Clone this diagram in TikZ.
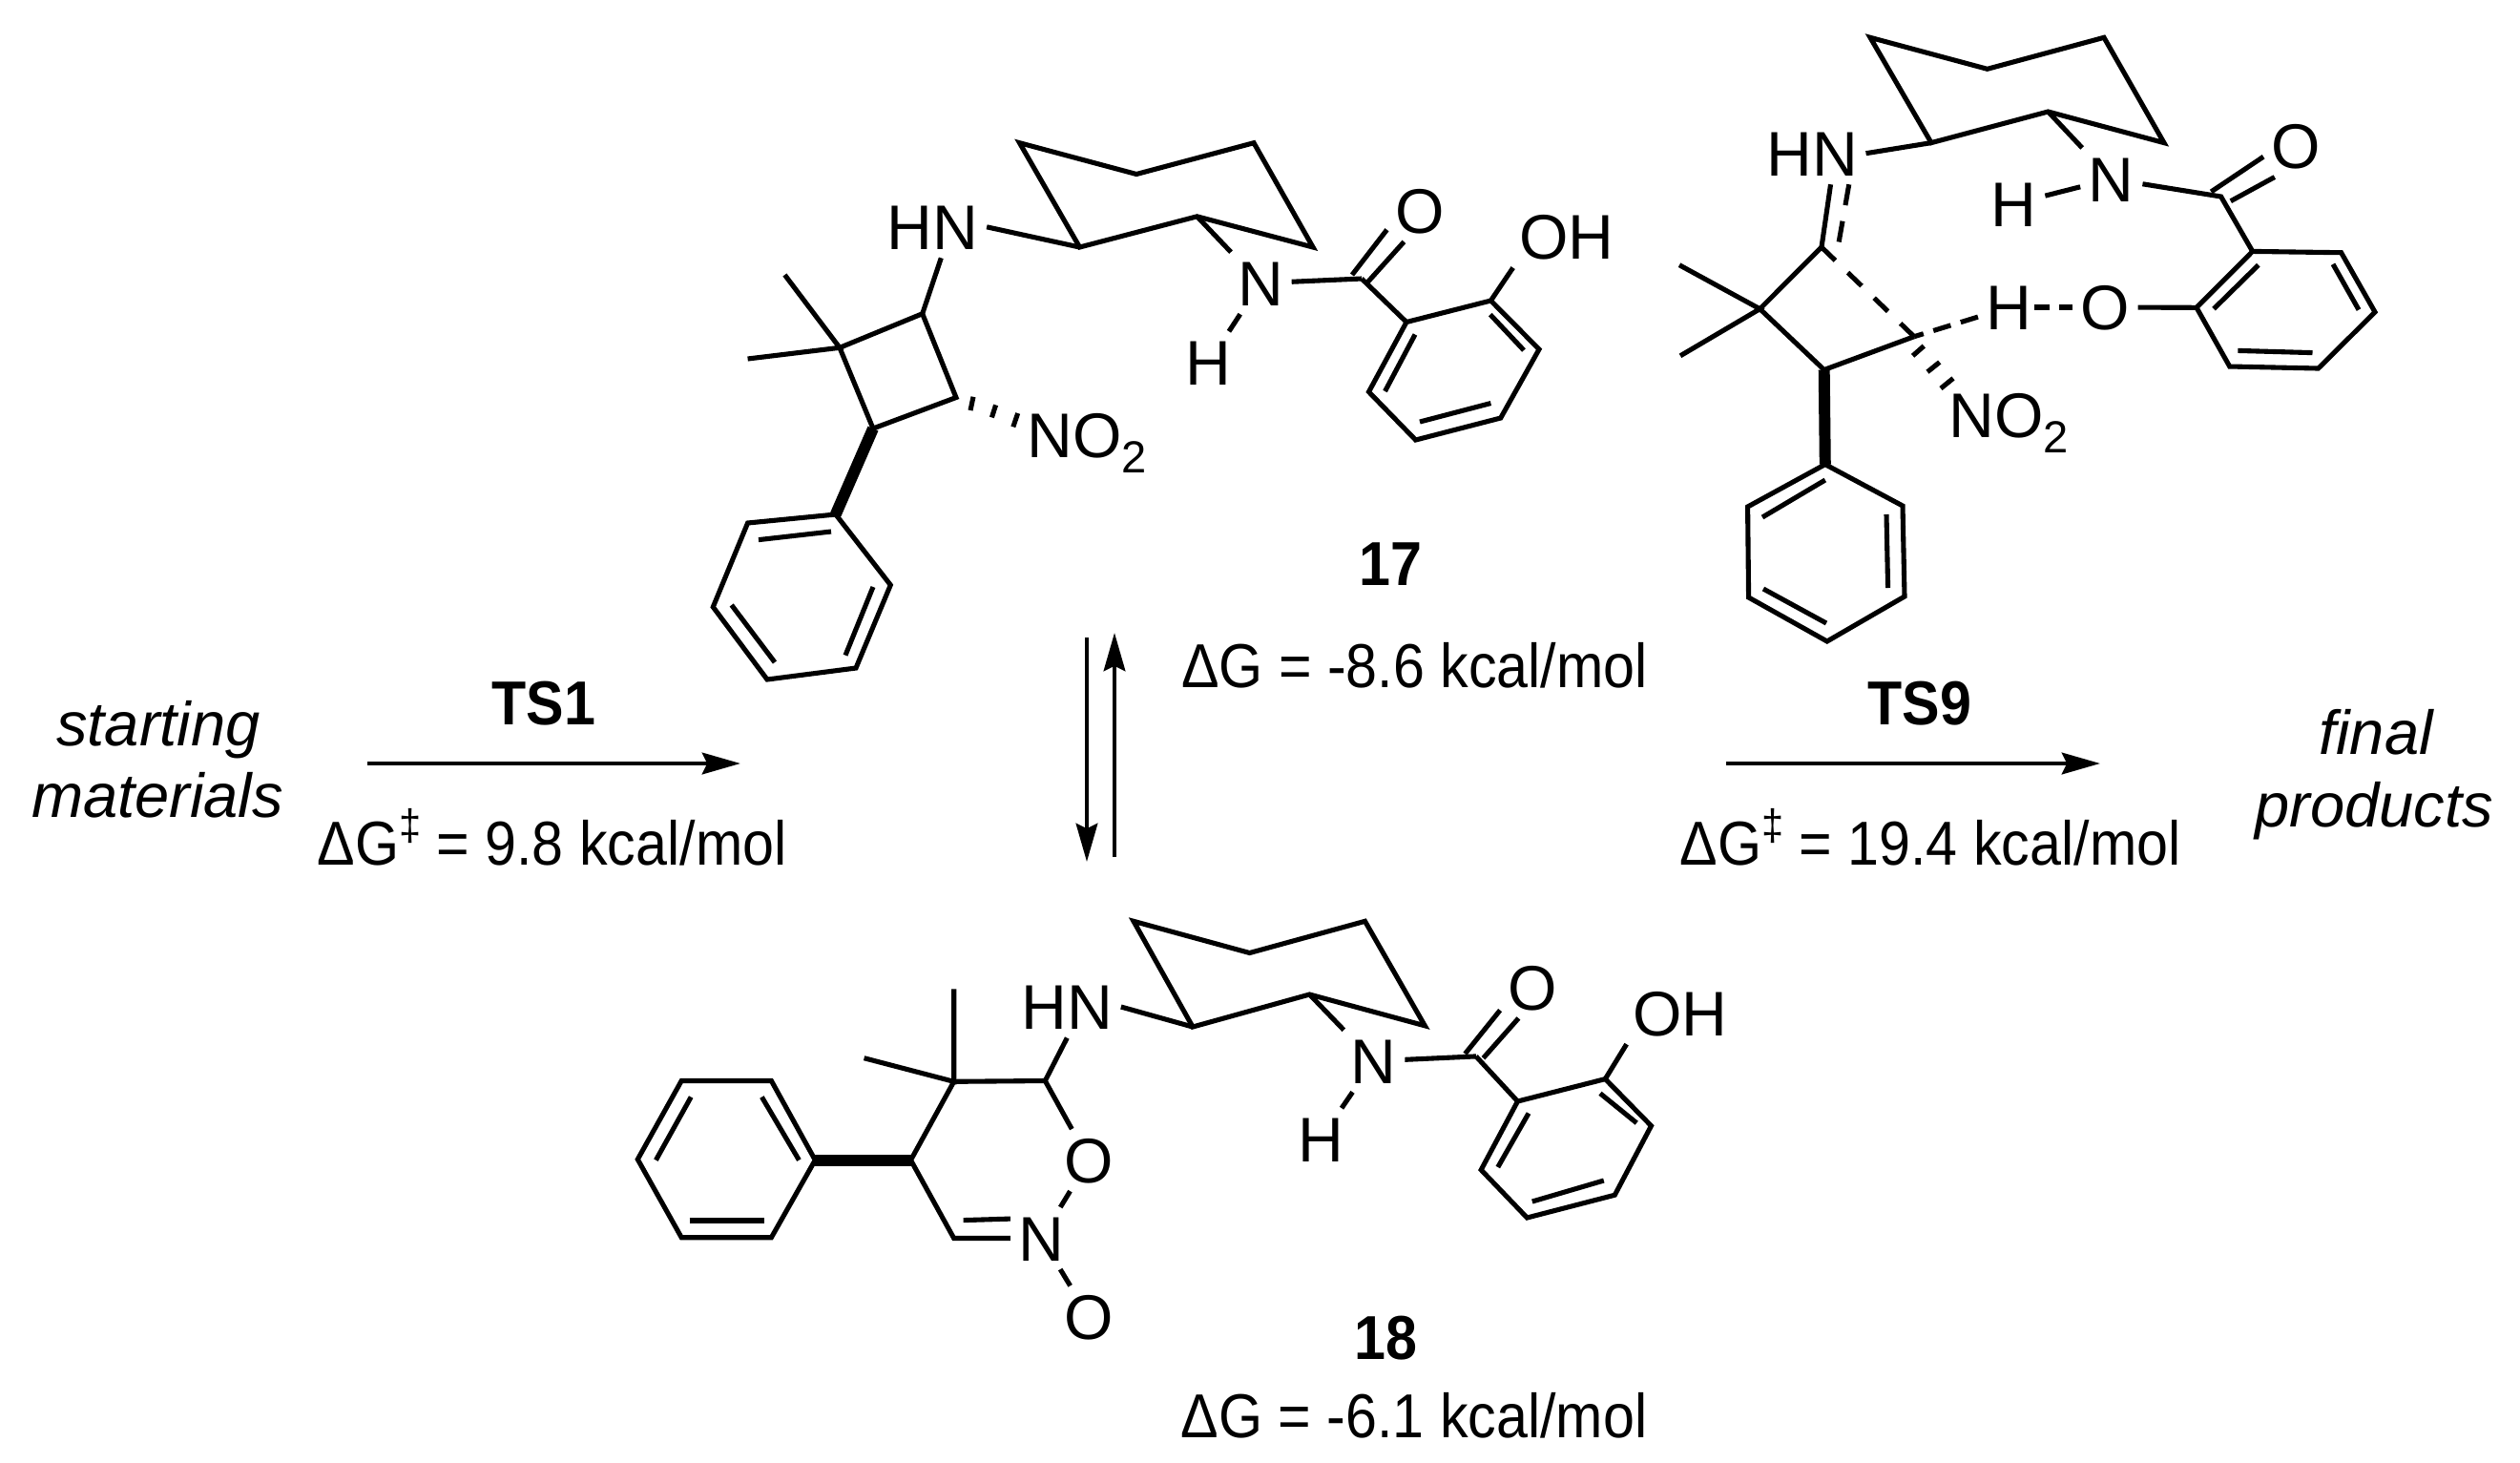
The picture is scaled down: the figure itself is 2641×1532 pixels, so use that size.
\documentclass[tikz,border=0pt]{standalone}
\usepackage{fontspec}
\setmainfont{Liberation Sans}
\newfontfamily\narrowfont[FakeStretch=0.91]{Liberation Sans}
\usetikzlibrary{arrows.meta}

\newcommand{\subtwo}{\raisebox{-4.5pt}{\fontsize{13.4}{14}\selectfont 2}}
\newcommand{\ddg}{\raisebox{7.5pt}{\fontsize{13}{14}\selectfont ‡}}

\tikzset{
  bond/.style={line width=1.45pt},
  inbond/.style={line width=1.45pt},
  boldbond/.style={line width=3.4pt},
  dashbond/.style={line width=1.45pt, dash pattern=on 5.7pt off 5.2pt},
  atom/.style={font=\fontsize{18.8}{22}\selectfont, inner sep=2.3pt, text height=13.5pt, text depth=0pt},
  energy/.style={font=\narrowfont\fontsize{18.5}{22}\selectfont, anchor=base, inner sep=0pt},
  tslabel/.style={font=\narrowfont\fontsize{18.5}{22}\selectfont\bfseries, anchor=base, inner sep=0pt},
  endlabel/.style={font=\fontsize{18.5}{22}\selectfont\itshape, anchor=base, inner sep=0pt},
  rxn/.style={line width=1.33pt, -{Stealth[length=11.4pt,width=6.4pt,inset=1.5pt]}}
}

\begin{document}
\begin{tikzpicture}[x=0.01cm, y=-0.01cm]
  \useasboundingbox (0,0) rectangle (2641,1532);

  % labels at the ends
  \node[endlabel] (sm1) at (166,781.7) {starting};
  \node[endlabel] (sm2) at (165,856.7) {materials};
  \node[endlabel] (fp1) at (2490,790.7) {final};
  \node[endlabel] (fp2) at (2488,866.7) {products};

  % arrows
  \coordinate (ts1a) at (385,800);
  \coordinate (ts1b) at (776,800);
  \coordinate (ts9a) at (1809,800);
  \coordinate (ts9b) at (2201,800);
  \coordinate (eqa) at (1139,668);
  \coordinate (eqb) at (1139,903);
  \coordinate (eqc) at (1168,898);
  \coordinate (eqd) at (1168,663);
  \draw[rxn] (ts1a) -- (ts1b);
  \draw[rxn] (ts9a) -- (ts9b);
  \draw[rxn] (eqa) -- (eqb);
  \draw[rxn] (eqc) -- (eqd);

  % energies
  \node[tslabel] (ts1) at (570,759) {TS1};
  \node[tslabel] (ts9) at (2012,759) {TS9};
  \node[energy] (dg1) at (578.5,906.7) {ΔG\ddg{} = 9.8 kcal/mol};
  \node[energy] (dg9) at (2023,906.7) {ΔG\ddg{} = 19.4 kcal/mol};
  \node[tslabel] (num17) at (1457.6,613) {17};
  \node[energy] (dg17) at (1482.5,720) {ΔG = -8.6 kcal/mol};
  \node[tslabel] (num18) at (1452.7,1424) {18};
  \node[energy] (dg18) at (1482,1506) {ΔG = -6.1 kcal/mol};

  % compound 17
  \node[atom] (hn17) at (977.6,237.8) {HN};
  \node[atom] (n17) at (1321,296.7) {N};
  \node[atom] (h17) at (1266.7,379.8) {H};
  \node[atom] (o17) at (1488,220.8) {O};
  \node[atom] (oh17) at (1642,248) {OH};
  \node[atom, anchor=west, inner sep=0pt] (no17) at (1075.7,455.7) {NO\subtwo};
  \draw[bond] (1068.5,149.7) coordinate (cya17) -- (1191,182.5) coordinate (cyb17)
    -- (1314,149.7) coordinate (cyc17) -- (1376,259) coordinate (cyd17)
    -- (1254.5,226.8) coordinate (cye17) -- (1131.5,259) coordinate (cyf17) -- cycle;
  \draw[bond] (966.7,328.7) coordinate (cba17) -- (880,364.3) coordinate (cbb17)
    -- (915,449) coordinate (cbc17) -- (1002,416.5) coordinate (cbd17) -- cycle;
  \draw[bond] (822.4,288) coordinate (mea17) -- (cbb17) -- (783.6,376) coordinate (meb17);
  \draw[bond] (hn17.east) -- (cyf17);
  \draw[bond] (hn17.-75) -- (cba17);
  \draw[bond] (875.8,539) coordinate (pha17) -- (783.6,548) coordinate (phb17)
    -- (747.3,636) coordinate (phc17) -- (804,712) coordinate (phd17)
    -- (897,700) coordinate (phe17) -- (933.3,613) coordinate (phf17) -- cycle;
  \draw[boldbond] (cbc17) -- (pha17);
  \draw[inbond] (795,565.6) -- (871,557);
  \draw[inbond] (766.7,634) -- (812,694);
  \draw[inbond] (886,686.6) -- (915,615);
  \draw[bond] (1020,415.8) -- (1017,430); % hashes
  \draw[bond] (1043.6,424.4) -- (1039.4,437.4);
  \draw[bond] (1066.7,433) -- (1061.8,447.3);
  \draw[bond] (n17) -- (cye17);
  \draw[bond] (n17) -- (h17);
  \coordinate (co17) at (1427,292);
  \draw[bond] (n17) -- (co17);
  \draw[bond] (1417,288) coordinate (cda17) -- (o17.210);
  \draw[bond] (1433,296) coordinate (cdb17) -- (o17.243);
  \draw[bond] (1474,337.5) coordinate (ara17) -- (1562.4,315) coordinate (arb17)
    -- (1613,366) coordinate (arc17) -- (1572.7,438) coordinate (ard17)
    -- (1483.6,461) coordinate (are17) -- (1434.5,410.6) coordinate (arf17) -- cycle;
  \draw[bond] (co17) -- (ara17);
  \draw[bond] (arb17) -- (oh17.-150);
  \draw[inbond] (1561.8,329.6) -- (1597,367);
  \draw[inbond] (1562.4,422.5) -- (1488,442);
  \draw[inbond] (1451.5,410) -- (1483,350.5);

  % TS9
  \node[atom] (hn9) at (1899,160.7) {HN};
  \node[atom] (n9) at (2212.8,187.5) {N};
  \node[atom] (ha9) at (2110.7,213.4) {H};
  \node[atom] (hb9) at (2105.6,322) {H};
  \node[atom] (ob9) at (2206,322) {O};
  \node[atom] (o9) at (2406.6,153) {O};
  \node[atom, anchor=west, inner sep=0pt] (no9) at (2042,435) {NO\subtwo};
  \draw[bond] (1960,39.3) coordinate (cya9) -- (2082.7,72.3) coordinate (cyb9)
    -- (2205,39.3) coordinate (cyc9) -- (2267.9,149.6) coordinate (cyd9)
    -- (2146.4,117) coordinate (cye9) -- (2024,149.6) coordinate (cyf9) -- cycle;
  \draw[bond] (hn9.east) -- (cyf9);
  \draw[bond] (1909,259) coordinate (cba9) -- (1844.4,323.7) coordinate (cbb9)
    -- (1911.7,387.5) coordinate (cbc9) -- (2006,352.7) coordinate (cbd9);
  \draw[dashbond] (cba9) -- (cbd9);
  \draw[bond] (hn9.-59) -- (cba9);
  \draw[dashbond, dash pattern=on 6.3pt off 4.8pt] (hn9.-40) -- (1927,254.5) coordinate (imi9);
  \draw[bond] (1760,277.7) coordinate (mea9) -- (cbb9) -- (1761,372.8) coordinate (meb9);
  \draw[bond] (1912.8,486.6) coordinate (pha9) -- (1831.6,531) coordinate (phb9)
    -- (1832.6,626) coordinate (phc9) -- (1914.8,672) coordinate (phd9)
    -- (1996,625) coordinate (phe9) -- (1994,530) coordinate (phf9) -- cycle;
  \draw[boldbond] (cbc9) -- (pha9);
  \draw[inbond] (1847,542) -- (1912.8,503);
  \draw[inbond] (1848,617) -- (1914,653);
  \draw[inbond] (1978.6,616) -- (1977,539);
  \draw[bond] (2004.6,372.8) -- (2016.3,362.5); % hashes
  \draw[bond] (2020,389.7) -- (2032.7,379.5);
  \draw[bond] (2034,407) -- (2047,396.4);
  \draw[dashbond, dash pattern=on 5.4pt off 3.1pt] (hb9) -- (cbd9);
  \draw[dashbond, dash pattern=on 4.8pt off 2.7pt, shorten <=-1.9pt] (hb9) -- (ob9);
  \draw[bond] (2302,322.3) coordinate (ara9) -- (2360.7,263.4) coordinate (arb9)
    -- (2453.6,264.7) coordinate (arc9) -- (2489,327) coordinate (ard9)
    -- (2429.6,386) coordinate (are9) -- (2336.7,384) coordinate (arf9) -- cycle;
  \draw[bond] (ob9) -- (ara9);
  \draw[inbond] (2320,323.7) -- (2366.8,277.7);
  \draw[inbond] (2445,276.8) -- (2472,324.6);
  \draw[inbond] (2423.5,369.6) -- (2345.4,367.4);
  \coordinate (co9) at (2327.6,206);
  \draw[bond] (n9) -- (cye9);
  \draw[bond] (n9) -- (ha9);
  \draw[bond] (n9) -- (co9) -- (arb9);
  \draw[bond] (2317.3,200.9) coordinate (cda9) -- (o9.198);
  \draw[bond] (2337.8,210.7) coordinate (cdb9) -- (o9.235);

  % compound 18
  \node[atom] (hn18) at (1118.3,1055) {HN};
  \node[atom] (oa18) at (1141.3,1215.6) {O};
  \node[atom] (nb18) at (1091.5,1297.5) {N};
  \node[atom] (ob18) at (1141.3,1379.8) {O};
  \node[atom] (n18) at (1439.7,1111.8) {N};
  \node[atom] (h18) at (1383.9,1193.7) {H};
  \node[atom] (o18) at (1606.6,1034.4) {O};
  \node[atom] (oh18) at (1761,1061.6) {OH};
  \draw[bond] (1188,965.3) coordinate (cya18) -- (1309.6,998.5) coordinate (cyb18)
    -- (1430.5,965.3) coordinate (cyc18) -- (1493.3,1074.8) coordinate (cyd18)
    -- (1372.4,1042) coordinate (cye18) -- (1250,1076) coordinate (cyf18) -- cycle;
  \draw[bond] (hn18.east) -- (cyf18);
  \coordinate (ga18) at (1095.3,1132.5);
  \coordinate (gb18) at (999.7,1133.3);
  \coordinate (gc18) at (954.5,1215.6);
  \coordinate (gd18) at (999.7,1297.5);
  \draw[bond] (hn18.south) -- (ga18);
  \draw[bond] (oa18) -- (ga18) -- (gb18) -- (gc18) -- (gd18) -- (nb18);
  \draw[bond] (1009.6,1278.6) coordinate (ge18) -- (nb18.148);
  \draw[bond] (oa18) -- (nb18);
  \draw[bond] (nb18) -- (ob18);
  \draw[bond] (999.7,1036.3) coordinate (mea18) -- (gb18) -- (905.6,1108.7) coordinate (meb18);
  \draw[bond] (854.3,1215.6) coordinate (pha18) -- (808.4,1132.5) coordinate (phb18)
    -- (714.2,1132.5) coordinate (phc18) -- (668.3,1214.8) coordinate (phd18)
    -- (714.2,1296.7) coordinate (phe18) -- (808.4,1296.7) coordinate (phf18) -- cycle;
  \draw[boldbond] (gc18) -- (pha18);
  \draw[inbond] (798.4,1149.5) -- (837.4,1215.6);
  \draw[inbond] (724.2,1149.5) -- (687.4,1215.6);
  \draw[inbond] (722.7,1279) -- (800.7,1279);
  \draw[bond] (n18) -- (cye18);
  \draw[bond] (n18) -- (h18);
  \coordinate (co18) at (1546.9,1106.9);
  \draw[bond] (n18) -- (co18);
  \draw[bond] (1535.4,1104.2) coordinate (cda18) -- (o18.215);
  \draw[bond] (1554.5,1108.7) coordinate (cdb18) -- (o18.245);
  \draw[bond] (1590.5,1154) coordinate (ara18) -- (1682.3,1130.6) coordinate (arb18)
    -- (1730.5,1179.7) coordinate (arc18) -- (1692.3,1252.2) coordinate (ard18)
    -- (1600.4,1276) coordinate (are18) -- (1552.2,1225.8) coordinate (arf18) -- cycle;
  \draw[bond] (co18) -- (ara18);
  \draw[bond] (arb18) -- (oh18.-150);
  \draw[inbond] (1677,1145.7) -- (1715.2,1176.7);
  \draw[inbond] (1680.8,1237) -- (1605.8,1259);
  \draw[inbond] (1569.8,1223) -- (1602,1166.5);
\end{tikzpicture}
\end{document}
